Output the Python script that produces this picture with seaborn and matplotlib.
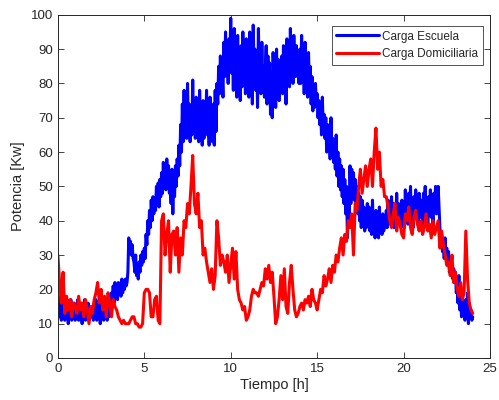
import numpy as np
import pandas as pd
import matplotlib
matplotlib.use("Agg")
import matplotlib.pyplot as plt
import seaborn as sns

# School load, sampled every 0.05 h (20 samples per hour), 0..24 h
carga_escuela = [
    13, 16, 12, 18, 11, 15, 13, 17, 11, 14, 12, 16, 10, 15, 12, 17, 11, 14, 13, 16,
    11, 15, 12, 17, 11, 14, 13, 16, 10, 15, 12, 17, 11, 14, 12, 16, 11, 15, 13, 12,
    15, 11, 16, 12, 17, 11, 14, 12, 16, 10, 15, 12, 17, 11, 15, 12, 16, 11, 14, 12,
    17, 15, 19, 17, 21, 16, 22, 18, 20, 17, 22, 19, 21, 18, 23, 19, 22, 20, 23, 21,
    22, 25, 35, 31, 34, 30, 33, 29, 28, 25, 30, 24, 27, 23, 28, 25, 30, 27, 31, 28,
    32, 29, 36, 33, 40, 36, 43, 38, 46, 40, 47, 42, 45, 43, 50, 46, 51, 44, 52, 47,
    54, 48, 57, 50, 55, 49, 58, 52, 56, 48, 50, 45, 55, 42, 53, 47, 56, 50, 58, 53,
    62, 56, 68, 60, 74, 63, 78, 65, 71, 64, 80, 66, 74, 63, 72, 65, 81, 68, 75, 64,
    76, 66, 72, 63, 78, 68, 70, 62, 75, 64, 73, 66, 78, 65, 71, 62, 76, 64, 70, 63,
    74, 62, 78, 66, 80, 74, 85, 77, 88, 79, 83, 76, 92, 82, 95, 84, 89, 80, 93, 86,
    99, 83, 90, 78, 96, 84, 88, 76, 94, 81, 86, 75, 91, 79, 95, 82, 87, 77, 93, 80,
    89, 76, 95, 82, 86, 74, 97, 84, 90, 78, 88, 73, 96, 83, 89, 77, 92, 80, 85, 76,
    84, 91, 74, 88, 78, 86, 71, 83, 70, 89, 80, 85, 73, 90, 79, 87, 75, 84, 78, 88,
    77, 91, 81, 87, 74, 93, 82, 88, 79, 96, 84, 90, 80, 94, 86, 82, 91, 83, 88, 80,
    90, 80, 94, 83, 88, 77, 92, 81, 86, 76, 89, 78, 85, 74, 82, 72, 79, 73, 80, 74,
    77, 70, 75, 68, 73, 65, 76, 67, 71, 64, 70, 60, 68, 62, 66, 58, 70, 60, 64, 57,
    62, 55, 65, 53, 60, 50, 58, 49, 56, 47, 55, 45, 52, 42, 50, 35, 48, 40, 56, 45,
    55, 48, 54, 46, 52, 45, 50, 42, 48, 40, 47, 38, 46, 39, 44, 37, 43, 38, 45, 40,
    44, 37, 42, 36, 46, 38, 41, 35, 43, 36, 40, 35, 44, 37, 39, 36, 42, 37, 41, 38,
    43, 38, 46, 39, 44, 40, 47, 41, 45, 38, 42, 39, 48, 40, 45, 41, 43, 38, 46, 40,
    45, 38, 49, 41, 46, 39, 48, 42, 50, 40, 44, 38, 47, 41, 49, 43, 45, 39, 48, 42,
    41, 46, 39, 48, 43, 50, 40, 45, 38, 47, 42, 49, 41, 46, 39, 48, 44, 50, 42, 46,
    50, 44, 38, 34, 36, 31, 33, 29, 35, 30, 32, 27, 31, 25, 29, 24, 27, 23, 26, 22,
    25, 19, 22, 16, 24, 14, 20, 12, 18, 13, 16, 11, 17, 12, 19, 10, 16, 12, 14, 11,
    12,
]

# Household load, sampled every 0.1 h (10 samples per hour), 0..24 h
carga_domiciliaria = [
    30, 22, 16, 25, 13, 18, 14, 17, 12, 16,
    15, 13, 18, 14, 16, 12, 17, 14, 10, 15,
    13, 17, 19, 22, 16, 20, 14, 18, 12, 19,
    16, 12, 17, 15, 14, 12, 11, 10, 11, 10,
    10, 10, 11, 12, 12, 10, 10, 9, 9, 10,
    19, 20, 20, 19, 12, 12, 17, 18, 11, 10,
    40, 42, 30, 36, 40, 25, 36, 37, 30, 38,
    25, 35, 30, 40, 38, 45, 42, 50, 59, 45,
    42, 48, 38, 40, 30, 32, 28, 25, 22, 26,
    20, 24, 40, 35, 27, 30, 28, 25, 30, 22,
    27, 32, 23, 31, 20, 17, 16, 14, 15, 11,
    12, 14, 18, 20, 19, 19, 18, 20, 22, 21,
    26, 23, 27, 22, 25, 18, 10, 12, 17, 24,
    17, 26, 15, 13, 22, 27, 20, 14, 12, 13,
    15, 16, 14, 17, 16, 18, 15, 20, 17, 16,
    14, 17, 20, 19, 24, 21, 23, 26, 22, 27,
    25, 30, 28, 32, 35, 30, 36, 34, 40, 38,
    42, 30, 45, 43, 50, 55, 48, 52, 56, 50,
    55, 58, 50, 60, 67, 55, 60, 50, 52, 47,
    47, 44, 40, 38, 42, 45, 37, 41, 39, 36,
    35, 42, 40, 44, 38, 36, 41, 43, 39, 37,
    40, 36, 38, 42, 37, 39, 35, 40, 36, 38,
    40, 32, 37, 33, 30, 27, 28, 24, 30, 22,
    25, 20, 18, 22, 17, 19, 37, 23, 16, 14,
    13,
]

tiempo_escuela = [round(i * 0.05, 2) for i in range(len(carga_escuela))]
tiempo_domiciliaria = [round(i * 0.1, 2) for i in range(len(carga_domiciliaria))]

series_names = ["Carga Escuela", "Carga Domiciliaria"]
series_colors = ["#0000ff", "#ff0000"]
x_ticks = [0, 5, 10, 15, 20, 25]
y_ticks = [0, 10, 20, 30, 40, 50, 60, 70, 80, 90, 100]

df = pd.concat([
    pd.DataFrame({"t": tiempo_escuela, "p": carga_escuela, "serie": series_names[0]}),
    pd.DataFrame({"t": tiempo_domiciliaria, "p": carga_domiciliaria, "serie": series_names[1]}),
])

sns.set_theme(style="white")
plt.rcParams["font.family"] = ["Liberation Sans", "DejaVu Sans"]
grey = "#262626"

fig = plt.figure(figsize=(4.99, 4.0), dpi=100)
ax = fig.add_axes([0.116, 0.105, 0.866, 0.858])

sns.lineplot(data=df, x="t", y="p", hue="serie", palette=series_colors,
             hue_order=series_names, linewidth=2.2, ax=ax, estimator=None,
             sort=False)

ax.set_xlim(0, 25)
ax.set_ylim(0, 100)
ax.set_xticks(x_ticks)
ax.set_yticks(y_ticks)
ax.tick_params(direction="in", length=4, width=0.6, colors=grey,
               labelsize=9.5, top=True, right=True, bottom=True, left=True,
               labeltop=False, labelright=False)
for s in ax.spines.values():
    s.set_color(grey)
    s.set_linewidth(0.7)
    s.set_visible(True)
ax.set_xlabel("Tiempo [h]", fontsize=10.5, color=grey, labelpad=2)
ax.set_ylabel("Potencia [Kw]", fontsize=10.5, color=grey, labelpad=4)

leg = ax.legend(loc="upper right", fontsize=8.5, frameon=True, fancybox=False,
                borderpad=0.4, handlelength=3.6, handletextpad=0.3,
                labelspacing=0.45, borderaxespad=0.0,
                bbox_to_anchor=(0.984, 0.968))
leg.get_frame().set_edgecolor(grey)
leg.get_frame().set_linewidth(0.7)
for line in leg.get_lines():
    line.set_linewidth(2.2)

fig.savefig("out.png", dpi=100)
